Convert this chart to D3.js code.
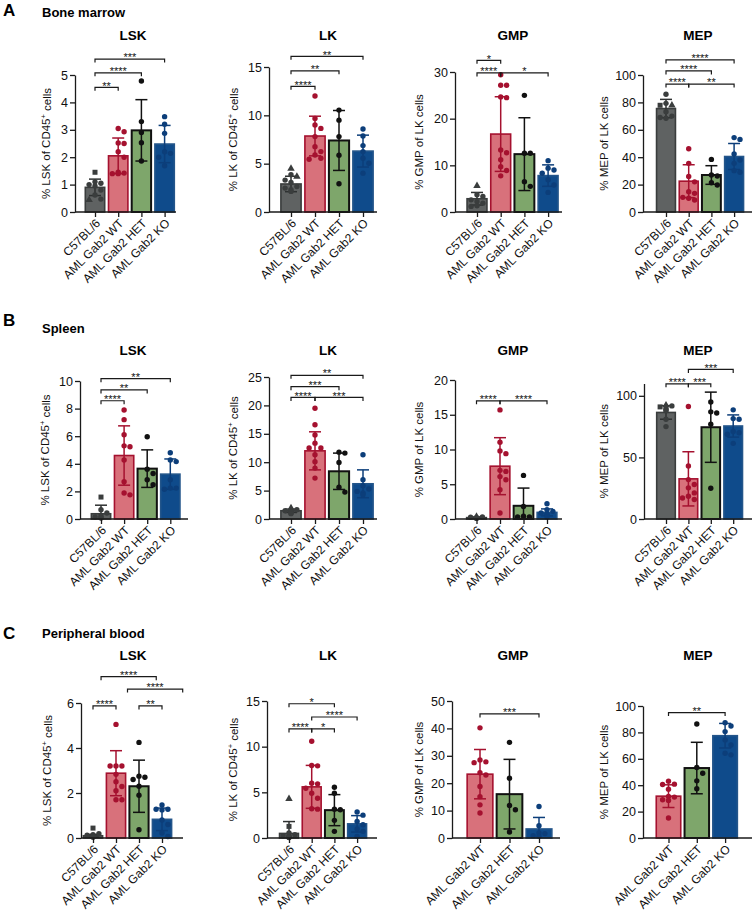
<!DOCTYPE html>
<html><head><meta charset="utf-8">
<script src="https://cdn.jsdelivr.net/npm/d3@7"></script>
<style>body{margin:0;background:#fff}</style>
</head><body>
<svg id="chart" width="756" height="911"></svg>
<script>
// ---------------- DATA ----------------
const groups4 = ["C57BL/6", "AML Gab2 WT", "AML Gab2 HET", "AML Gab2 KO"];
const groups3 = ["AML Gab2 WT", "AML Gab2 HET", "AML Gab2 KO"];
const sectionTitles = ["Bone marrow", "Spleen", "Peripheral blood"];
const sectionLetters = ["A", "B", "C"];
const populations = ["LSK", "LK", "GMP", "MEP"];

// Bone marrow
const bmLskTicks = [0, 1, 2, 3, 4, 5];
const bmLskMean = [0.9, 2.05, 2.98, 2.48];
const bmLskSd = [0.3, 0.65, 1.12, 0.68];
const bmLskPts = [[1.45, 1.1, 1.05, 1.0, 0.95, 0.8, 0.62, 0.47, 0.44], [3.05, 2.93, 2.52, 2.5, 2.2, 2.0, 1.45, 1.42, 1.4, 1.4], [4.78, 3.3, 2.9, 2.53, 1.86], [3.48, 3.2, 2.87, 2.2, 2.14, 2.0, 1.69]];
const bmLskC57Shapes = ["s", "c", "c", "c", "c", "c", "c", "c", "t"];
const bmLskSig = [[0, 1, 4.55, "**"], [0, 2, 5.08, "****"], [0, 3, 5.58, "***"]];

const bmLkTicks = [0, 5, 10, 15];
const bmLkMean = [2.9, 7.86, 7.4, 6.3];
const bmLkSd = [0.8, 2.05, 3.1, 1.65];
const bmLkPts = [[4.5, 3.85, 3.67, 3.3, 3.05, 2.64, 2.47, 2.3, 2.13], [12.0, 9.68, 9.0, 8.65, 7.8, 6.76, 6.25, 5.9, 5.56, 5.46], [10.54, 9.5, 7.8, 5.87, 2.92], [8.58, 7.86, 6.87, 6.25, 5.56, 5.05, 4.02]];
const bmLkC57Shapes = ["t", "c", "t", "c", "c", "c", "c", "c", "c"];
const bmLkSig = [[0, 1, 13.0, "****"], [0, 2, 14.6, "**"], [0, 3, 16.1, "**"]];

const bmGmpTicks = [0, 10, 20, 30];
const bmGmpMean = [2.84, 16.7, 12.4, 7.8];
const bmGmpSd = [1.35, 8.0, 7.8, 2.3];
const bmGmpPts = [[5.6, 3.7, 3.34, 2.6, 2.27, 1.9, 1.35, 1.2], [29.4, 27.15, 27.15, 24.66, 24.5, 13.3, 12.7, 11.2, 9.7, 8.9, 7.75], [25, 12.6, 12.6, 6.5, 5.5], [11.0, 9.4, 9.0, 8.3, 6.9, 5.8, 4.2]];
const bmGmpC57Shapes = ["t", "c", "c", "c", "c", "c", "c", "c"];
const bmGmpSig = [[0, 1, 32.5, "*"], [0, 1, 29.8, "****"], [1, 3, 29.8, "*"]];

const bmMepTicks = [0, 20, 40, 60, 80, 100];
const bmMepMean = [75.5, 22.5, 27, 40.5];
const bmMepSd = [6.7, 12, 6.8, 9.5];
const bmMepPts = [[85.9, 79.3, 77.9, 77.9, 73.2, 70, 69, 68.4], [46.2, 35.5, 26, 22, 14.8, 13.6, 10.7, 10, 8.8], [38.4, 27, 26.3, 21.4, 19.7], [54.3, 53, 42.3, 38, 35.5, 30.2, 29]];
const bmMepC57Shapes = ["c", "c", "t", "s", "c", "c", "c", "c"];
const bmMepSig = [[0, 3, 111, "****"], [0, 2, 103, "****"], [0, 1, 93.4, "****"], [1, 3, 93.4, "**"]];

// Spleen
const spLskTicks = [0, 2, 4, 6, 8, 10];
const spLskMean = [0.38, 4.6, 3.65, 3.25];
const spLskSd = [0.62, 2.15, 1.36, 1.1];
const spLskPts = [[1.59, 0.67, 0.43, 0.24, 0.14, 0.1, 0.07], [7.9, 7.2, 6.1, 5.3, 5.24, 4.28, 2.7, 1.88, 1.75], [5.96, 3.6, 3.3, 2.84, 2.48], [4.8, 4.28, 4.16, 2.84, 2.24, 2.24, 2.16]];
const spLskC57Shapes = ["s", "c", "c", "c", "c", "c", "c"];
const spLskSig = [[0, 1, 8.57, "****"], [0, 2, 9.35, "**"], [0, 3, 10.17, "**"]];

const spLkTicks = [0, 5, 10, 15, 20, 25];
const spLkMean = [1.45, 12.0, 8.4, 6.2];
const spLkSd = [0.3, 3.35, 3.2, 2.45];
const spLkPts = [[1.93, 1.64, 1.46, 1.35, 1.23, 1.05, 0.94], [19.5, 16.6, 14.8, 13.35, 12.5, 12.5, 11.3, 10.1, 8.96, 7.2], [11.77, 11.6, 9.95, 5.6, 4.74], [11.3, 6.9, 5.85, 5.27, 4.86, 4.57, 4.27]];
const spLkC57Shapes = ["t", "c", "c", "c", "c", "c", "c"];
const spLkSig = [[0, 3, 25.3, "**"], [0, 2, 23.3, "***"], [0, 1, 21.4, "****"], [1, 3, 21.4, "***"]];

const spGmpTicks = [0, 5, 10, 15, 20];
const spGmpMean = [0.2, 7.6, 1.9, 0.95];
const spGmpSd = [0.1, 4.1, 2.55, 0.5];
const spGmpPts = [[0.35, 0.3, 0.25, 0.2, 0.15, 0.1, 0.1], [15.7, 11.05, 9.8, 9.4, 7.0, 6.85, 6.1, 5.65, 4.2, 0.86], [6.27, 1.8, 0.4, 0.3, 0.3], [2.2, 1.34, 1.1, 0.86, 0.77, 0.62, 0.3]];
const spGmpC57Shapes = ["t", "c", "c", "c", "c", "c", "c"];
const spGmpSig = [[0, 1, 17.0, "****"], [1, 3, 17.0, "****"]];

const spMepTicks = [0, 50, 100];
const spMepMean = [86.5, 32.6, 74.5, 75.5];
const spMepSd = [5.5, 22, 28.5, 9];
const spMepPts = [[92.4, 91.8, 91, 89.7, 88.6, 87.8, 81, 75], [91.3, 43, 32, 28, 25.3, 21.2, 18.5, 17, 15.8], [95, 87, 86, 77, 25], [88.6, 81.5, 81, 71, 70, 68.8, 61.4]];
const spMepC57Shapes = ["t", "c", "s", "c", "c", "c", "c", "c"];
const spMepSig = [[1, 3, 121.4, "***"], [0, 1, 109.7, "****"], [1, 2, 109.7, "***"]];

// Peripheral blood
const pbLskTicks = [0, 2, 4, 6];
const pbLskMean = [0.1, 2.88, 2.3, 0.83];
const pbLskSd = [0.06, 1.0, 1.16, 0.5];
const pbLskPts = [[0.44, 0.19, 0.15, 0.12, 0.1, 0.08, 0.06, 0.05, 0.04], [5.05, 3.2, 3.2, 3.2, 2.83, 2.5, 2.29, 2.1, 1.7, 1.7], [4.25, 2.75, 2.7, 2.6, 2.3, 1.9, 0.37], [1.47, 1.28, 1.28, 1.25, 0.8, 0.6, 0.22, 0.07]];
const pbLskC57Shapes = ["s", "c", "c", "c", "c", "c", "c", "c", "c"];
const pbLskSig = [[0, 1, 5.87, "****"], [2, 3, 5.87, "**"], [0.35, 2.75, 7.17, "****"], [1.5, 3.9, 6.62, "****"]];

const pbLkTicks = [0, 5, 10, 15];
const pbLkMean = [0.5, 5.6, 3.05, 1.55];
const pbLkSd = [1.3, 2.35, 1.7, 0.9];
const pbLkPts = [[4.3, 1.27, 0.55, 0.36, 0.25, 0.18, 0.12, 0.1, 0.08, 0.05], [10.6, 7.93, 7.9, 6.0, 5.93, 5.45, 4.9, 4.36, 3.2, 3.16], [5.56, 4.9, 3.16, 3.1, 1.93, 0.73], [2.84, 2.5, 1.82, 1.45, 0.98, 0.73, 0.18]];
const pbLkC57Shapes = ["t", "s", "c", "c", "c", "c", "c", "c", "c", "c"];
const pbLkSig = [[0, 2, 14.7, "*"], [1, 3, 13.25, "****"], [0, 1, 11.94, "****"], [1, 2, 11.94, "*"]];

const pbGmpTicks = [0, 10, 20, 30, 40, 50];
const pbGmpMean = [23.3, 16, 3.3];
const pbGmpSd = [9, 12.7, 4.2];
const pbGmpPts = [[40.2, 28.5, 27.8, 27.5, 23.8, 23, 18.8, 15.1, 12.1, 9.1], [34.9, 21.8, 11.9, 10.3, 2.2], [11.5, 4.5, 1.8, 1.6, 0.85, 0.6]];
const pbGmpSig = [[0, 2, 45.3, "***"]];

const pbMepTicks = [0, 20, 40, 60, 80, 100];
const pbMepMean = [31.7, 53, 77.5];
const pbMepSd = [8.6, 19.5, 9.3];
const pbMepPts = [[43, 40.8, 40.5, 37, 31.5, 31, 29, 28.5, 15.1], [86.4, 53.4, 49.1, 43.3, 37.3], [87.4, 84.9, 80.6, 74.3, 70.5, 64.2, 63]];
const pbMepSig = [[0, 2, 95, "**"]];

// ---------------- STYLE / LAYOUT ----------------
const FONT = "'Liberation Sans', Arial, Helvetica, sans-serif";
const palette = {
  "C57BL/6": {fill: "#5f6262", stroke: "#3a3d3d", dot: "#3a3d3d", err: "#2e3131"},
  "AML Gab2 WT": {fill: "#d8717b", stroke: "#a5112f", dot: "#a5112f", err: "#a5112f"},
  "AML Gab2 HET": {fill: "#7ea66b", stroke: "#111111", dot: "#111111", err: "#111111"},
  "AML Gab2 KO": {fill: "#0f4b8b", stroke: "#23558a", dot: "#0c3e7a", err: "#0c3e7a"}
};
const rowY0 = [212, 519, 838];
const rowHeader = [{letterY: 16, titleY: 17}, {letterY: 326, titleY: 333}, {letterY: 639, titleY: 638}];
const panelTitleY = [40, 355, 660];
const colTitleX = [133, 328, 513, 698];

function yl(pre, sup, post) { return {pre, sup, post}; }
const panels = [
  {row: 0, col: 0, groups: groups4, mean: bmLskMean, sd: bmLskSd, pts: bmLskPts, shapes: bmLskC57Shapes, sig: bmLskSig, ticks: bmLskTicks, max: 5, label: yl("% LSK of CD45", "+", " cells"),
   L: {axisX: 75, yTop: 75, xFirst: 95, step: 23.2, xEnd: 176, labDx: 25}},
  {row: 0, col: 1, groups: groups4, mean: bmLkMean, sd: bmLkSd, pts: bmLkPts, shapes: bmLkC57Shapes, sig: bmLkSig, ticks: bmLkTicks, max: 15, label: yl("% LK of CD45", "+", " cells"),
   L: {axisX: 269, yTop: 67, xFirst: 291, step: 24, xEnd: 377, labDx: 32}},
  {row: 0, col: 2, groups: groups4, mean: bmGmpMean, sd: bmGmpSd, pts: bmGmpPts, shapes: bmGmpC57Shapes, sig: bmGmpSig, ticks: bmGmpTicks, max: 30, label: yl("% GMP of LK cells", "", ""),
   L: {axisX: 455, yTop: 72, xFirst: 477, step: 23.7, xEnd: 562, labDx: 32}},
  {row: 0, col: 3, groups: groups4, mean: bmMepMean, sd: bmMepSd, pts: bmMepPts, shapes: bmMepC57Shapes, sig: bmMepSig, ticks: bmMepTicks, max: 100, label: yl("% MEP of LK cells", "", ""),
   L: {axisX: 643, yTop: 75, xFirst: 666, step: 22.7, xEnd: 752, labDx: 35}},

  {row: 1, col: 0, groups: groups4, mean: spLskMean, sd: spLskSd, pts: spLskPts, shapes: spLskC57Shapes, sig: spLskSig, ticks: spLskTicks, max: 10, label: yl("% LSK of CD45", "+", " cells"),
   L: {axisX: 80, yTop: 381, xFirst: 101, step: 23.1, xEnd: 188, labDx: 31}},
  {row: 1, col: 1, groups: groups4, mean: spLkMean, sd: spLkSd, pts: spLkPts, shapes: spLkC57Shapes, sig: spLkSig, ticks: spLkTicks, max: 25, label: yl("% LK of CD45", "+", " cells"),
   L: {axisX: 269, yTop: 377, xFirst: 291, step: 24, xEnd: 377, labDx: 32}},
  {row: 1, col: 2, groups: groups4, mean: spGmpMean, sd: spGmpSd, pts: spGmpPts, shapes: spGmpC57Shapes, sig: spGmpSig, ticks: spGmpTicks, max: 20, label: yl("% GMP of LK cells", "", ""),
   L: {axisX: 455, yTop: 380, xFirst: 476.5, step: 23.5, xEnd: 562, labDx: 32}},
  {row: 1, col: 3, groups: groups4, mean: spMepMean, sd: spMepSd, pts: spMepPts, shapes: spMepC57Shapes, sig: spMepSig, ticks: spMepTicks, max: 110, label: yl("% MEP of LK cells", "", ""),
   L: {axisX: 644, yTop: 383.5, xFirst: 666, step: 22.4, xEnd: 752, labDx: 36}},

  {row: 2, col: 0, groups: groups4, mean: pbLskMean, sd: pbLskSd, pts: pbLskPts, shapes: pbLskC57Shapes, sig: pbLskSig, ticks: pbLskTicks, max: 6, label: yl("% LSK of CD45", "+", " cells"),
   L: {axisX: 81, yTop: 703, xFirst: 93, step: 23, xEnd: 183, labDx: 30}},
  {row: 2, col: 1, groups: groups4, mean: pbLkMean, sd: pbLkSd, pts: pbLkPts, shapes: pbLkC57Shapes, sig: pbLkSig, ticks: pbLkTicks, max: 15, label: yl("% LK of CD45", "+", " cells"),
   L: {axisX: 267, yTop: 701, xFirst: 289, step: 22.7, xEnd: 377, labDx: 30}},
  {row: 2, col: 2, groups: groups3, mean: pbGmpMean, sd: pbGmpSd, pts: pbGmpPts, shapes: null, sig: pbGmpSig, ticks: pbGmpTicks, max: 50, label: yl("% GMP of LK cells", "", ""),
   L: {axisX: 452, yTop: 701, xFirst: 480, step: 29.5, xEnd: 560, labDx: 29}},
  {row: 2, col: 3, groups: groups3, mean: pbMepMean, sd: pbMepSd, pts: pbMepPts, shapes: null, sig: pbMepSig, ticks: pbMepTicks, max: 100, label: yl("% MEP of LK cells", "", ""),
   L: {axisX: 643, yTop: 706, xFirst: 668.5, step: 28.3, xEnd: 752, labDx: 35}}
];

// ---------------- DRAW ----------------
const svg = d3.select("#chart").style("font-family", FONT);

sectionLetters.forEach((letter, i) => {
  svg.append("text").attr("x", 3).attr("y", rowHeader[i].letterY).text(letter)
    .attr("font-size", 17).attr("font-weight", "bold").attr("fill", "#000");
  svg.append("text").attr("x", 42).attr("y", rowHeader[i].titleY).text(sectionTitles[i])
    .attr("font-size", 13).attr("font-weight", "bold").attr("fill", "#000");
});

function swarm(values, y, maxOff) {
  const r = 2.7, gap = 2 * r + 0.5;
  const order = values.map((v, i) => i).sort((a, b) => values[b] - values[a]);
  const placed = [];
  const offs = new Array(values.length).fill(0);
  order.forEach(i => {
    const py = y(values[i]);
    const cands = [0];
    for (let k = 1; k <= 4; k++) { cands.push(k * gap, -k * gap); }
    let chosen = 0;
    for (const c of cands) {
      if (Math.abs(c) > maxOff) continue;
      const ok = placed.every(p => Math.hypot(p.x - c, p.y - py) >= gap);
      if (ok) { chosen = c; break; }
    }
    offs[i] = chosen;
    placed.push({x: chosen, y: py});
  });
  return offs;
}

function drawPanel(p) {
  const L = p.L;
  const y0 = rowY0[p.row];
  const g = svg.append("g");
  const y = d3.scaleLinear().domain([0, p.max]).range([y0, L.yTop]);
  const xp = d3.scalePoint().domain(p.groups).range([L.xFirst, L.xFirst + L.step * (p.groups.length - 1)]);
  const xi = d3.scaleLinear().domain([0, p.groups.length - 1]).range(xp.range());
  const bw = L.step - 2.2;

  // bars
  g.selectAll("rect.bar").data(p.groups).join("rect").attr("class", "bar")
    .attr("x", d => xp(d) - bw / 2 + 0.8)
    .attr("y", (d, i) => y(p.mean[i]))
    .attr("width", bw - 1.6)
    .attr("height", (d, i) => y(0) - y(p.mean[i]))
    .attr("fill", d => palette[d].fill)
    .attr("stroke", d => palette[d].stroke)
    .attr("stroke-width", d => d === "AML Gab2 HET" ? 2 : 1.6);

  // error bars
  p.groups.forEach((gname, i) => {
    const c = palette[gname].err;
    const cx = xp(gname);
    const hi = p.mean[i] + p.sd[i], lo = Math.max(0, p.mean[i] - p.sd[i]);
    const eg = g.append("g").attr("stroke", c).attr("stroke-width", 1.5).attr("fill", "none");
    eg.append("line").attr("x1", cx).attr("x2", cx).attr("y1", y(hi)).attr("y2", y(lo));
    eg.append("line").attr("x1", cx - 6).attr("x2", cx + 6).attr("y1", y(hi)).attr("y2", y(hi));
    if (lo > 0) eg.append("line").attr("x1", cx - 6).attr("x2", cx + 6).attr("y1", y(lo)).attr("y2", y(lo));
  });

  // points
  p.groups.forEach((gname, i) => {
    const vals = p.pts[i];
    const offs = swarm(vals, y, bw / 2 - 3);
    const col = palette[gname].dot;
    vals.forEach((v, j) => {
      const cx = xp(gname) + offs[j], cy = y(v);
      const shape = (gname === "C57BL/6" && p.shapes) ? p.shapes[j] : "c";
      if (shape === "s") {
        g.append("rect").attr("x", cx - 2.5).attr("y", cy - 2.5).attr("width", 5).attr("height", 5).attr("fill", col);
      } else if (shape === "t") {
        g.append("path").attr("d", d3.symbol(d3.symbolTriangle, 24)()).attr("transform", `translate(${cx},${cy})`).attr("fill", col);
      } else {
        g.append("circle").attr("cx", cx).attr("cy", cy).attr("r", 2.7).attr("fill", col);
      }
    });
  });

  // y axis
  const ya = g.append("g").attr("transform", `translate(${L.axisX},0)`)
    .call(d3.axisLeft(y).tickValues(p.ticks).tickFormat(d3.format("d")).tickSize(5).tickSizeOuter(0).tickPadding(2));
  ya.select(".domain").attr("stroke", "#1a1a1a").attr("stroke-width", 1.3);
  ya.selectAll(".tick line").attr("stroke", "#1a1a1a").attr("stroke-width", 1.3);
  ya.selectAll(".tick text").attr("font-size", 12.5).attr("font-family", FONT).attr("fill", "#111");

  // x axis
  const xa = g.append("g").attr("transform", `translate(0,${y0})`)
    .call(d3.axisBottom(xp).tickSize(5).tickFormat(""));
  xa.select(".domain").remove();
  xa.selectAll(".tick line").attr("stroke", "#1a1a1a").attr("stroke-width", 1.3);
  g.append("line").attr("x1", L.axisX).attr("x2", L.xEnd).attr("y1", y0).attr("y2", y0)
    .attr("stroke", "#1a1a1a").attr("stroke-width", 1.3);
  p.groups.forEach(gname => {
    g.append("text").text(gname)
      .attr("transform", `translate(${xp(gname) + 3},${y0 + 9}) rotate(-45)`)
      .attr("text-anchor", "end").attr("dy", "0.35em")
      .attr("font-size", 12).attr("fill", "#111");
  });

  // y label
  const lt = g.append("text")
    .attr("transform", `translate(${L.axisX - L.labDx},${(y0 + L.yTop) / 2}) rotate(-90)`)
    .attr("text-anchor", "middle").attr("font-size", 11.5).attr("fill", "#111");
  lt.append("tspan").text(p.label.pre);
  if (p.label.sup) lt.append("tspan").text(p.label.sup).attr("font-size", 7.5).attr("dy", "-0.5em");
  if (p.label.post) lt.append("tspan").text(p.label.post).attr("dy", p.label.sup ? "0.37em" : 0);

  // significance brackets
  p.sig.forEach(([a, b, h, lab]) => {
    const x1 = xi(a), x2 = xi(b), yy = y(h);
    g.append("path").attr("d", `M${x1},${yy + 3.5}V${yy}H${x2}V${yy + 3.5}`)
      .attr("fill", "none").attr("stroke", "#1a1a1a").attr("stroke-width", 1.2);
    g.append("text").attr("x", (x1 + x2) / 2).attr("y", yy + 2.2).attr("text-anchor", "middle")
      .attr("font-size", 11).attr("fill", "#111").text(lab);
  });

  // title
  svg.append("text").attr("x", colTitleX[p.col]).attr("y", panelTitleY[p.row])
    .attr("text-anchor", "middle").attr("font-size", 13.5).attr("font-weight", "bold")
    .attr("fill", "#000").text(populations[p.col]);
}

panels.forEach(drawPanel);
</script>
</body></html>
